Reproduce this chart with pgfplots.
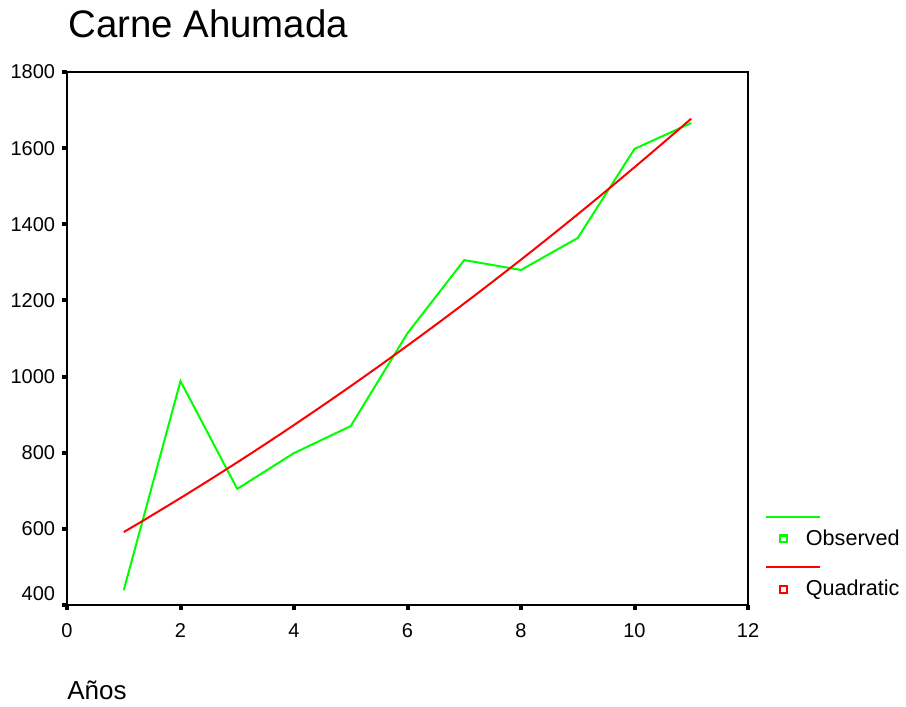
\documentclass[border=0pt]{standalone}
\usepackage{fontspec}
\setmainfont{Liberation Sans}
\usepackage{pgfplots}
\pgfplotsset{compat=1.18}
\definecolor{obsgreen}{RGB}{0,255,0}
\definecolor{fitred}{RGB}{255,0,0}

\begin{document}
\begin{tikzpicture}
\useasboundingbox (-33.5pt,-51pt) rectangle (419.5pt,302.5pt);
\begin{axis}[
  at={(0,0)}, anchor=south west,
  scale only axis, width=340.5pt, height=266.5pt,
  xmin=0, xmax=12, ymin=400, ymax=1800,
  xtick={0,2,...,12},
  ytick={400,600,...,1800},
  yticklabels={\raisebox{5.5pt}[\height][\depth]{400},600,800,1000,1200,1400,1600,1800},
  /pgf/number format/assume math mode=true,
  tick pos=left,
  tick align=outside,
  major tick length=2.5pt,
  every tick/.style={black, line width=2pt},
  axis line style={black, line width=1pt},
  yticklabel style={font=\fontsize{10}{12}\selectfont, anchor=east, inner sep=0pt, xshift=-3.25pt},
  xticklabel style={font=\fontsize{10}{12}\selectfont, anchor=north, inner sep=0pt, yshift=-6.5pt},
  legend cell align=left,
  legend style={draw=none, fill=none, inner sep=0pt,
    font=\fontsize{10.8}{13}\selectfont,
    at={(axis description cs:1.0445,0.1426)}, anchor=north west,
    row sep=16pt, column sep=9pt,
    nodes={inner sep=0pt}},
  legend image code/.code={
    \draw[#1, overlay, line width=1pt] (-8.5pt,11pt) -- (18.5pt,11pt);
    \draw[#1, line width=1.2pt, fill=white] (-1.7pt,-1.7pt) rectangle (1.7pt,1.7pt);
  },
]
% observed yearly values
\addplot[obsgreen, line width=1pt] coordinates {
  (1,439) (2,988) (3,705) (4,799) (5,870) (6,1114)
  (7,1306) (8,1280) (9,1364) (10,1598) (11,1666)
};
\addlegendentry{Observed}
% quadratic trend
\addplot[fitred, line width=1pt] coordinates {
  (1,591.6) (1.25,613.5) (1.5,635.8) (1.75,658.3) (2,681.0)
  (2.25,704.1) (2.5,727.3) (2.75,750.9) (3,774.7) (3.25,798.8)
  (3.5,823.2) (3.75,847.8) (4,872.7) (4.25,897.9) (4.5,923.3)
  (4.75,949.0) (5,974.9) (5.25,1001.2) (5.5,1027.6) (5.75,1054.4)
  (6,1081.4) (6.25,1108.7) (6.5,1136.2) (6.75,1164.1) (7,1192.1)
  (7.25,1220.5) (7.5,1249.1) (7.75,1278.0) (8,1307.1) (8.25,1336.5)
  (8.5,1366.2) (8.75,1396.1) (9,1426.3) (9.25,1456.8) (9.5,1487.5)
  (9.75,1518.6) (10,1549.8) (10.25,1581.4) (10.5,1613.2) (10.75,1645.2)
  (11,1677.6)
};
\addlegendentry{Quadratic}
\end{axis}
\node[anchor=base west, inner sep=0pt, font=\fontsize{19.2}{22}\selectfont] at (0.5pt,283.5pt) {Carne Ahumada};
\node[anchor=base west, inner sep=0pt, font=\fontsize{13}{15}\selectfont] at (0pt,-47.5pt) {Años};
\end{tikzpicture}
\end{document}
